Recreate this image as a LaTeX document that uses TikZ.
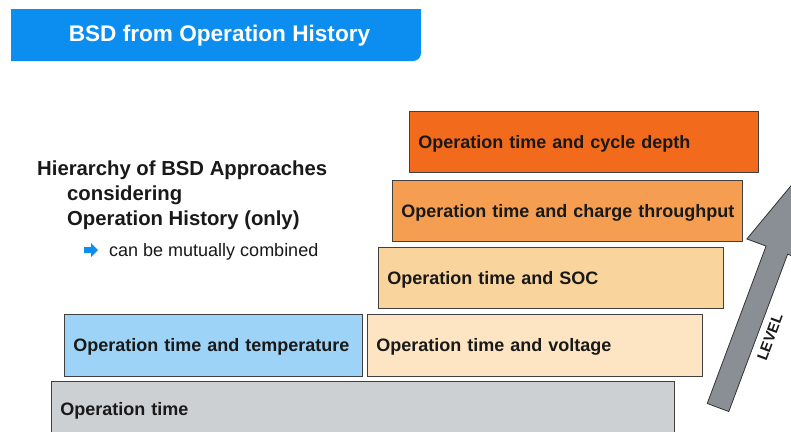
\documentclass[tikz,border=0pt]{standalone}
\usepackage{fontspec}
\setmainfont{Liberation Sans}

% fills of the banner, the level boxes and the arrow
\definecolor{bannerblue}{RGB}{12,141,240}
\definecolor{basegray}{RGB}{205,208,211}
\definecolor{tempblue}{RGB}{157,211,247}
\definecolor{voltpeach}{RGB}{253,229,195}
\definecolor{socpeach}{RGB}{250,212,157}
\definecolor{chgorange}{RGB}{245,158,82}
\definecolor{cycorange}{RGB}{242,107,29}
\definecolor{levelgray}{RGB}{138,143,149}

\begin{document}
\begin{tikzpicture}[x=1pt, y=-1pt, every node/.style={font=\bfseries, text=black!90},
	lvl/.style={draw=black!75, line width=0.8pt, anchor=north west, inner xsep=9pt, inner ysep=0pt, text depth=0pt, align=left, font=\fontsize{18}{20}\selectfont\bfseries},
	head/.style={anchor=base west, inner sep=0pt, font=\fontsize{20.3}{24}\selectfont\bfseries}]
	\clip (0,0) rectangle (791,431);
	\fill[white] (0,0) rectangle (791,431);

	% title banner
	\fill[bannerblue] (11,9) -- (421,9) [rounded corners=8pt] -- (421,61) [sharp corners] -- (11,61) -- cycle;
	\node[text=white, font=\fontsize{22.6}{26}\selectfont\bfseries] (title) at (219.5,36) {BSD from Operation History};

	% left-hand caption
	\node[head] (hier) at (37,175) {Hierarchy of BSD Approaches};
	\node[head] (cons) at (67,200) {considering};
	\node[head] (hist) at (67,225) {Operation History (only)};
	\fill[bannerblue] (84,247) -- (91,247) -- (91,243) -- (98,250) -- (91,257) -- (91,253) -- (84,253) -- cycle;
	\node[anchor=base west, inner sep=0pt, font=\fontsize{18}{22}\selectfont] (comb) at (109,256) {can be mutually combined};

	% the levels, bottom to top
	\node[lvl, fill=basegray, minimum height=55pt, text width=605pt] (optime) at (51,381) {Operation time};
	\node[lvl, fill=tempblue, minimum height=62pt, text width=280pt] (temp) at (64,314) {Operation time and temperature};
	\node[lvl, fill=voltpeach, minimum height=62pt, text width=317pt] (volt) at (367,314) {Operation time and voltage};
	\node[lvl, fill=socpeach, minimum height=61pt, text width=327pt] (soc) at (378,247) {Operation time and SOC};
	\node[lvl, fill=chgorange, minimum height=61pt, text width=332pt] (chg) at (392,180) {\mbox{Operation time and charge throughput}};
	\node[lvl, fill=cycorange, minimum height=61pt, text width=331pt] (cyc) at (409,111) {Operation time and cycle depth};

	% level arrow
	\begin{scope}[shift={(718,407.5)}, rotate=69.5]
		\draw[fill=levelgray, draw=black!80, line width=0.8pt] (0,-11.5) -- (168,-11.5) -- (168,-32) -- (260,0) -- (168,32) -- (168,11.5) -- (0,11.5) -- cycle;
		\node[transform shape, font=\fontsize{15}{18}\selectfont\bfseries] (level) at (84,24) {LEVEL};
	\end{scope}
\end{tikzpicture}
\end{document}
